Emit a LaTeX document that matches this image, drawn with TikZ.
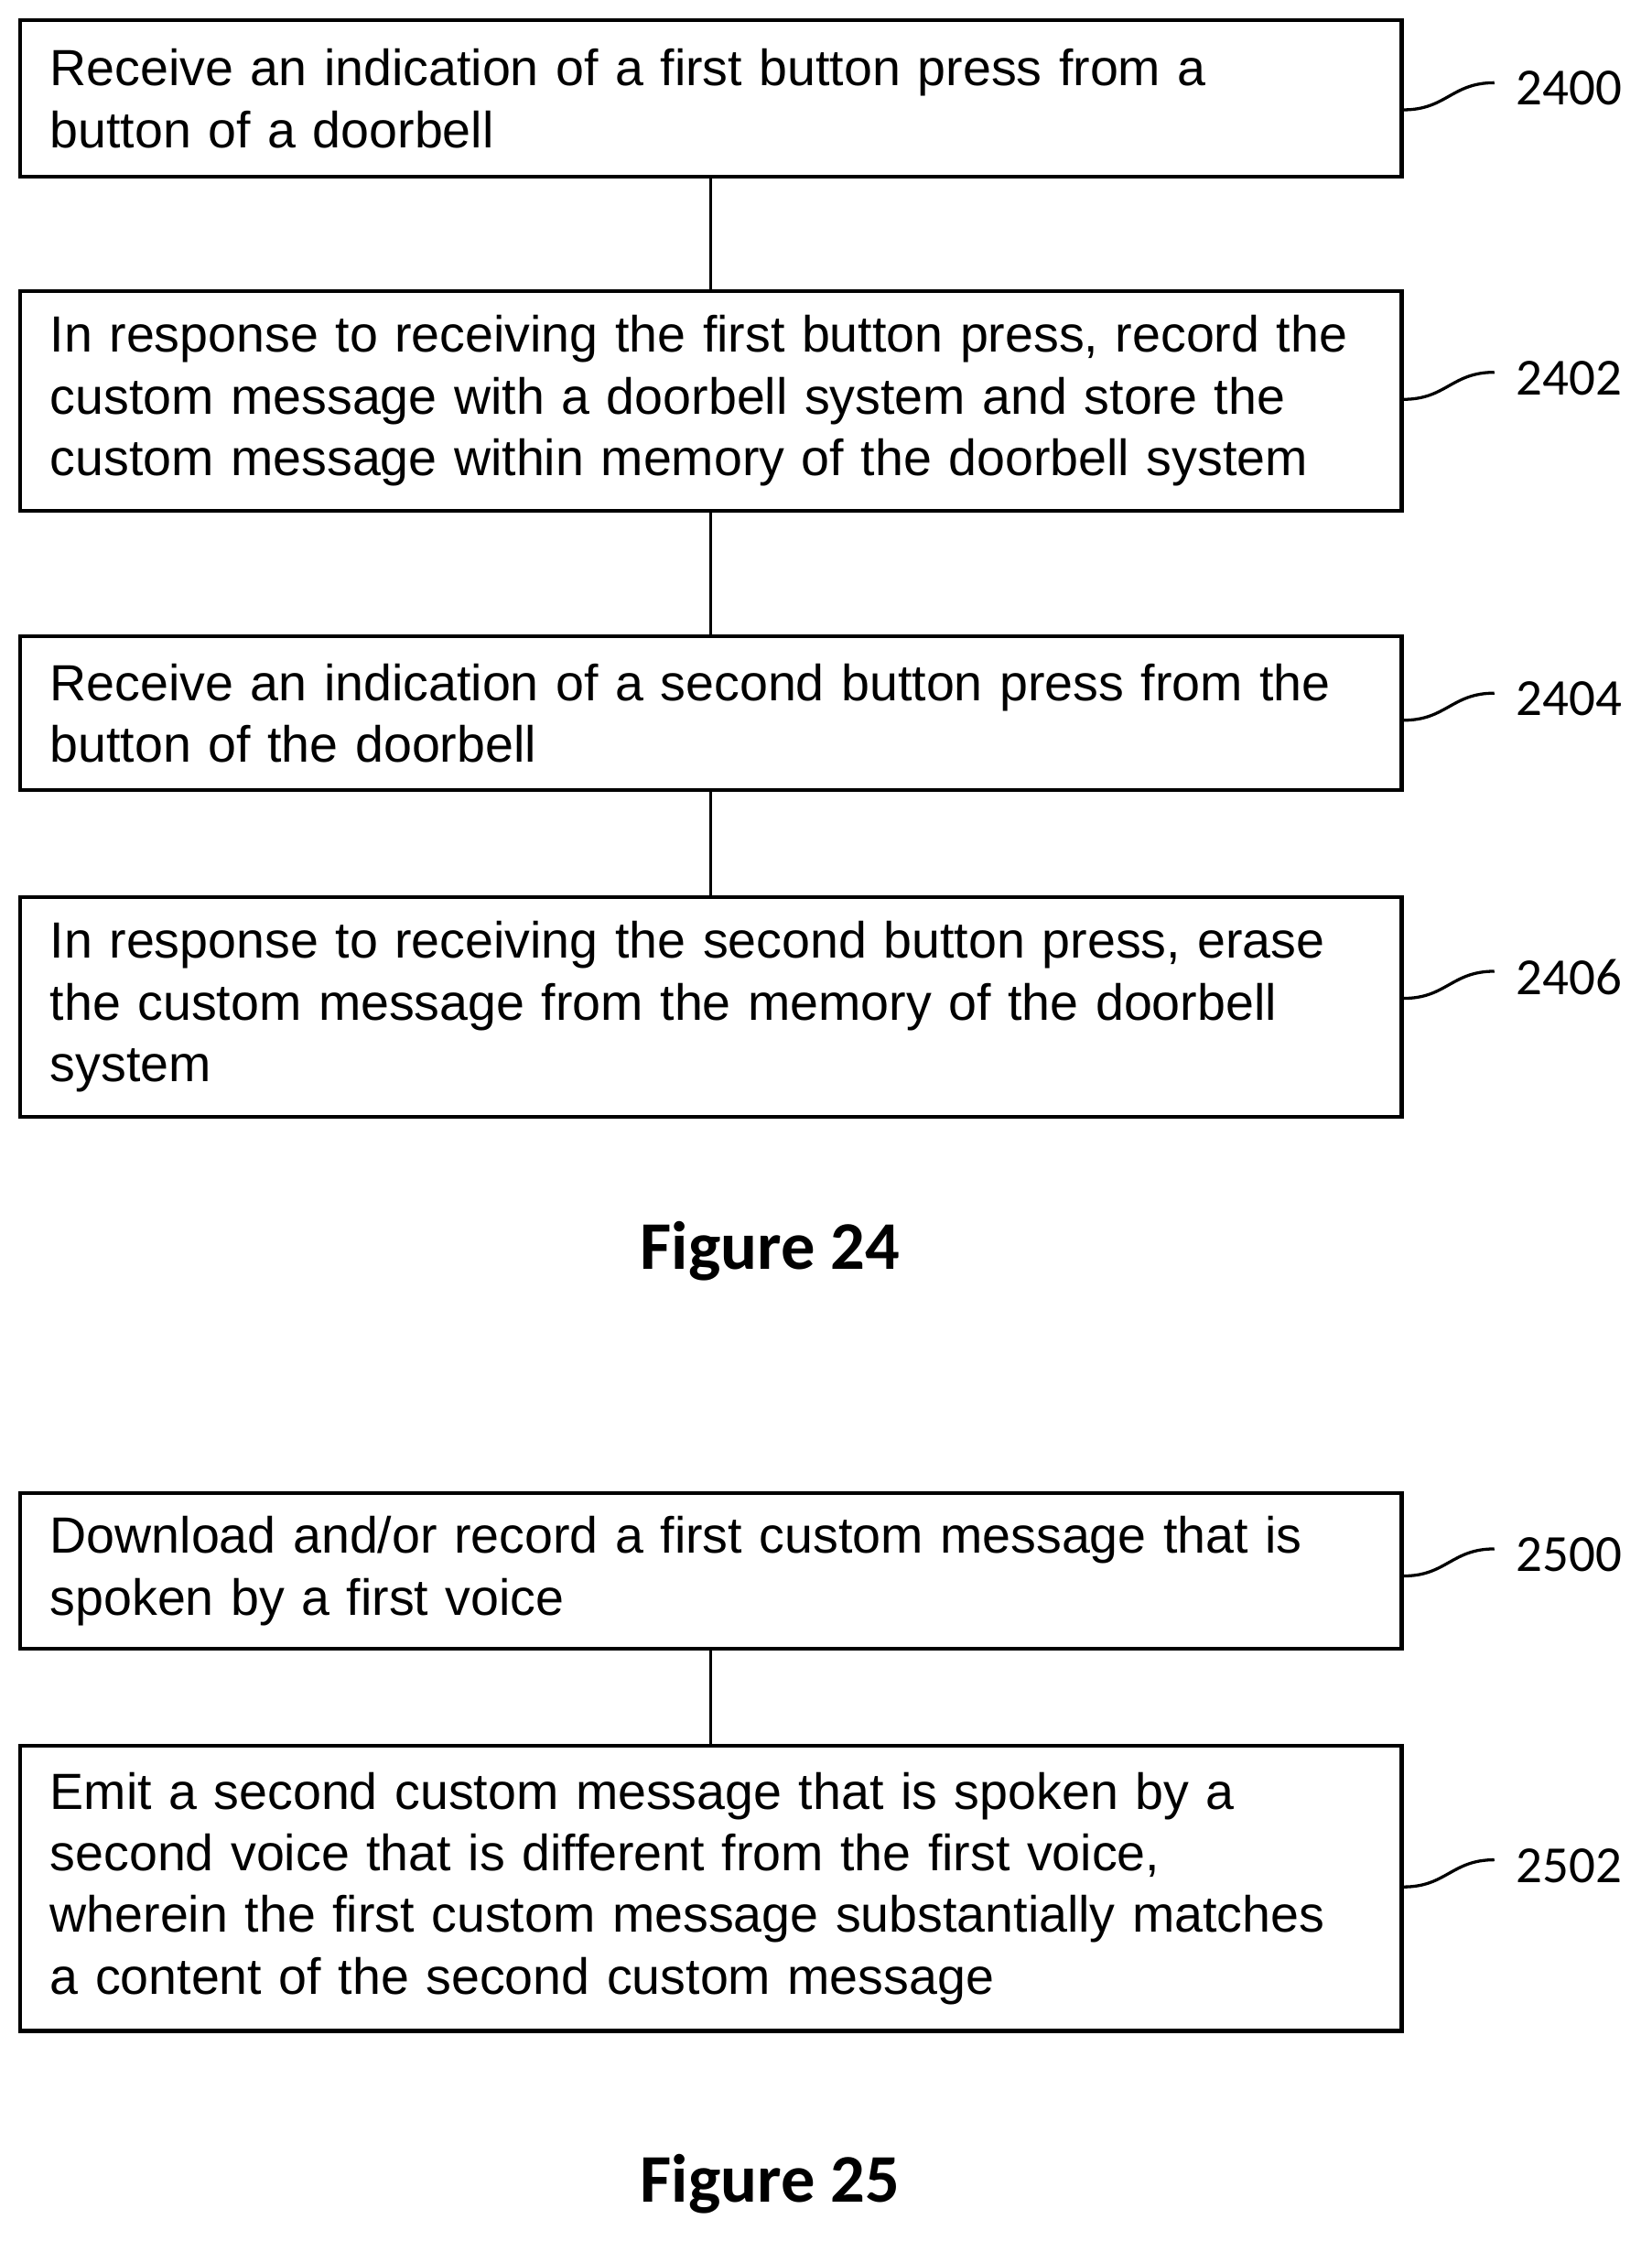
\documentclass[tikz,border=0pt]{standalone}
\usepackage{fontspec}
\setmainfont{Liberation Sans}
\newfontfamily\calib{Carlito}
\begin{document}
\begin{tikzpicture}[x=0.02cm,y=-0.02cm,
 box/.style={draw,line width=1.6pt,minimum width=19.38cm,text width=18.54cm,inner xsep=0.42cm,align=left,font=\fontsize{20.3}{24.6}\selectfont},
 num/.style={anchor=west,font=\calib\fontsize{20.8}{24}\selectfont,inner sep=0pt},
 fig/.style={font=\calib\bfseries\fontsize{27.2}{32}\selectfont},
 con/.style={line width=1.2pt},
 sq/.style={line width=1.2pt}]
\useasboundingbox (0,0) rectangle (1158,1579);
\node[box,minimum height=2.2cm] (b1) at (498.5,69) {Receive an indication of a first button press from a\\button of a doorbell};
\node[box,minimum height=3.08cm] (b2) at (498.5,281) {In response to receiving the first button press, record the\\custom message with a doorbell system and store the\\custom message within memory of the doorbell system};
\node[box,minimum height=2.16cm] (b3) at (498.5,500) {Receive an indication of a second button press from the\\button of the doorbell};
\node[box,minimum height=3.08cm] (b4) at (498.5,706) {In response to receiving the second button press, erase\\the custom message from the memory of the doorbell\\system};
\node[box,minimum height=2.18cm] (b5) at (498.5,1101.5) {Download and/or record a first custom message that is\\spoken by a first voice};
\node[box,minimum height=4.0cm] (b6) at (498.5,1324) {Emit a second custom message that is spoken by a\\second voice that is different from the first voice,\\wherein the first custom message substantially matches\\a content of the second custom message};
\draw[con] (b1) -- (b2); \draw[con] (b2) -- (b3); \draw[con] (b3) -- (b4); \draw[con] (b5) -- (b6);
\node[num] (n1) at (1063,62) {2400};
\node[num] (n2) at (1063,265) {2402};
\node[num] (n3) at (1063,490) {2404};
\node[num] (n4) at (1063,685) {2406};
\node[num] (n5) at (1063,1090) {2500};
\node[num] (n6) at (1063,1308) {2502};
\foreach \b/\n in {b1/n1,b2/n2,b3/n3,b4/n4,b5/n5,b6/n6}{
 \coordinate (s) at ([yshift=-0.3cm]\b.east|-\n.west);
 \coordinate (e) at ([xshift=-0.3cm,yshift=0.08cm]\n.west);
 \draw[sq] (s) .. controls ([xshift=0.6cm]s) and ([xshift=-0.6cm]e) .. (e);
}
\node[fig] (f24) at (540,877) {Figure 24};
\node[fig] (f25) at (540,1531) {Figure 25};
\end{tikzpicture}
\end{document}
